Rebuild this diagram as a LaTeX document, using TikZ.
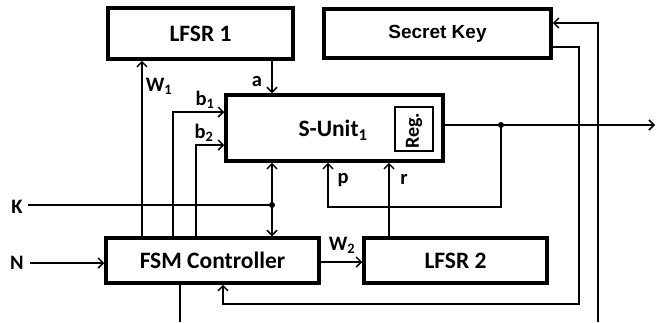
\documentclass[tikz,border=0pt]{standalone}
\usepackage{fontspec}
\setmainfont{Carlito}
\newfontfamily\arialbf{Liberation Sans}
\usetikzlibrary{arrows.meta,positioning}

\begin{document}
\begin{tikzpicture}[
 x=1pt, y=-1pt, >={Straight Barb[length=5pt,width=10pt,line width=1.5pt]},
 blk/.style={draw, line width=3.5pt, inner sep=0pt, font=\fontsize{23.5}{28}\selectfont\bfseries},
 wire/.style={line width=1.5pt},
 lbl/.style={inner sep=0pt, font=\fontsize{20.5}{24}\selectfont\bfseries},
 dot/.style={circle, fill, inner sep=0pt, minimum size=6pt}]
\useasboundingbox (0,0) rectangle (659,322);
% blocks
\node[blk, minimum width=185pt, minimum height=51pt] (lfsr1) at (200.5,33.5) {LFSR 1};
\node[blk, minimum width=227pt, minimum height=49pt, font=\fontsize{19}{22}\selectfont\arialbf\bfseries] (key) at (437.5,33.5) {Secret Key};
\node[blk, minimum width=217pt, minimum height=66pt] (sunit) at (334.5,128) {};
\node[inner sep=0pt, font=\fontsize{23.5}{28}\selectfont\bfseries] (sutxt) at (333,130) {S-Unit\textsubscript{1}};
\node[draw, line width=1.5pt, minimum width=38pt, minimum height=44pt, inner sep=0pt] (reg) at (414,129) {};
\node[rotate=90, inner sep=0pt, font=\fontsize{20}{24}\selectfont\bfseries] (regtxt) at (414,131) {Reg.};
\node[blk, minimum width=213pt, minimum height=45pt] (fsm) at (212.5,260.5) {FSM Controller};
\node[blk, minimum width=183pt, minimum height=45pt] (lfsr2) at (455.5,260.5) {LFSR 2};
% inputs
\node[lbl] (K) at (17,207) {K};
\node[lbl] (N) at (17,263) {N};
% helper points
\coordinate (w1) at (142,0);
\coordinate (b1) at (173,112);
\coordinate (b2) at (196,145);
\coordinate (kdot) at (272,205);
\coordinate (odot) at (501,125);
\coordinate (out) at (655,125);
\coordinate (pc) at (328,207);
\coordinate (rx) at (389,0);
\coordinate (w2) at (0,262);
\coordinate (kr) at (579,304);
\coordinate (kl) at (223,0);
\coordinate (kin) at (598,322);
\coordinate (fout) at (180,322);
% connectors
\draw[wire,->] (fsm.north -| w1) -- (lfsr1.south -| w1);
\node[lbl] (w1lbl) at (159,86) {W\textsubscript{1}};
\draw[wire,->] (lfsr1.south -| kdot) -- (sunit.north -| kdot);
\node[lbl] (albl) at (257,82) {a};
\draw[wire,->] (fsm.north -| b1) |- (sunit.west |- b1);
\node[lbl] (b1lbl) at (205,100) {b\textsubscript{1}};
\draw[wire,->] (fsm.north -| b2) |- (sunit.west |- b2);
\node[lbl] (b2lbl) at (204,133) {b\textsubscript{2}};
\draw[wire] ([xshift=5pt]K.east |- kdot) -- (kdot);
\node[dot] (kd) at (kdot) {};
\draw[wire,->] (kdot) -- (sunit.south -| kdot);
\draw[wire,->] (kdot) -- (fsm.north -| kdot);
\draw[wire,->] ([xshift=6pt]N.east) -- (fsm.west |- N.east);
\draw[wire,->] (sunit.east |- odot) -- (out);
\node[dot] (od) at (odot) {};
\draw[wire,->] (odot) |- (pc) -- (sunit.south -| pc);
\node[lbl] (plbl) at (343,180) {p};
\draw[wire,->] (lfsr2.north -| rx) -- (sunit.south -| rx);
\node[lbl] (rlbl) at (404,179) {r};
\draw[wire,->] (fsm.east |- w2) -- (lfsr2.west |- w2);
\node[lbl] (w2lbl) at (342,245) {W\textsubscript{2}};
\draw[wire,->] ([yshift=-13.5pt]key.east) -| (kr) -| (fsm.south -| kl);
\draw[wire,->] (kin) |- ([yshift=10.5pt]key.east);
\draw[wire] (fsm.south -| fout) -- (fout);
\end{tikzpicture}
\end{document}
